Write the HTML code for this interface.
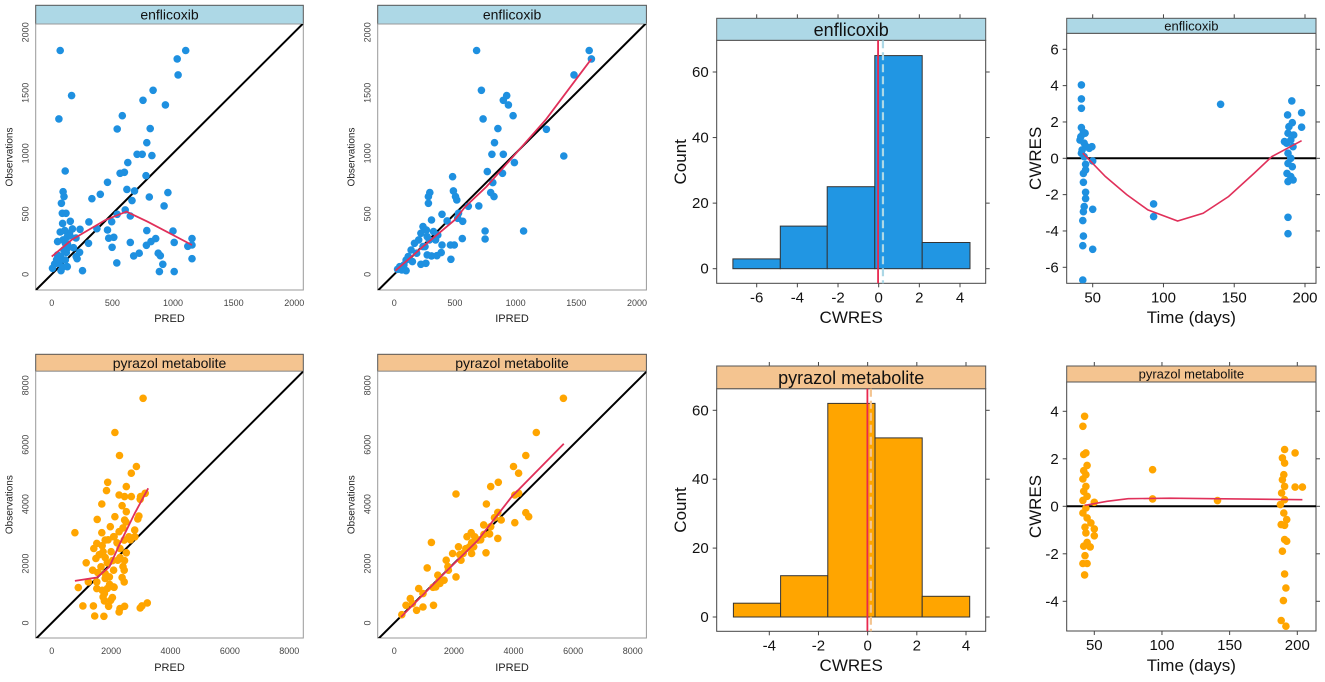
<!DOCTYPE html>
<html><head><meta charset="utf-8">
<style>
html,body{margin:0;padding:0;background:#fff;overflow:hidden;width:1325px;height:682px;}
svg{display:block;font-family:"Liberation Sans",sans-serif;}
</style></head>
<body>
<svg id="fig" width="1325" height="682" viewBox="0 0 1325 682" xmlns="http://www.w3.org/2000/svg"></svg>
<script>
// ---------- DATA ----------
const pred1X=[70,1105,1035,1042,164,836,937,753,582,59,540,812,784,704,746,826,627,564,599,777,460,958,620,683,662,401,331,805,927,111,94,101,80,87,118,153,90,108,171,233,307,606,540,648,495,460,470,512,498,784,781,819,857,1000,878,895,916,888,1010,1010,1157,1157,1157,1122,648,721,676,537,254,209,202,129,112,77,49,24,7,49,94,129,146,73,112,59,45,303,230,373,129,60,100,130,150,180,200,90,40,70,120];
const pred1Y=[1850,1850,1780,1648,1477,1521,1400,1438,1311,1284,1201,1204,1088,992,992,981,923,835,843,815,760,675,702,689,609,661,625,639,565,854,683,642,587,504,504,438,421,361,375,372,433,532,496,482,435,366,298,306,223,361,240,270,295,358,174,154,83,22,22,264,295,242,129,231,264,174,152,94,30,129,146,63,118,30,160,85,50,270,284,215,339,146,256,91,124,256,182,377,311,100,200,250,320,220,300,60,120,350,180];
const pred1LoessX=[0,164,443,617,791,1157];
const pred1LoessY=[146,284,449,518,435,242];
const ipred1X=[679,1606,1624,1481,718,927,899,941,979,732,854,1254,826,805,899,1397,990,481,767,892,812,488,505,516,697,610,822,795,293,282,282,394,530,564,523,436,307,237,265,324,359,272,220,341,394,463,495,561,749,749,1066,467,272,307,352,387,220,261,167,139,115,98,80,45,28,63,98,150,185,237,289,254,202];
const ipred1Y=[1850,1850,1780,1648,1521,1477,1438,1400,1311,1284,1204,1198,1088,992,992,978,923,807,849,835,758,689,642,614,565,562,642,675,675,642,587,496,504,438,463,441,449,394,366,353,325,311,339,284,242,242,242,295,358,292,358,124,160,152,154,179,83,91,256,201,146,118,77,63,41,36,30,105,174,229,284,229,284];
const ipred1LoessX=[10,237,498,585,760,1003,1247,1624];
const ipred1LoessY=[30,229,449,559,725,1000,1276,1780];
const pred2X=[3078,2128,2284,2851,2681,1887,2511,1844,2270,2454,2681,2993,3149,2979,1688,2369,2128,2511,1532,2936,2454,780,1688,1972,2270,2794,1801,1518,2085,2440,1418,1730,2298,2511,1489,1872,2227,1163,1660,2085,2440,1376,1801,1943,1518,2369,1234,894,1518,1872,2085,2440,1773,2043,1050,1404,1773,1915,2270,2454,1447,1759,2979,3220,3036,2298,1730,1986,1600,1700,1900,2100,2200,2400,2500,2600,2800,1800,2000,2300,1950,2100,1700,2400,2450,1550,2650,2900,2050,1800];
const pred2Y=[7561,6413,5637,5266,5041,4737,4591,4456,4309,4253,4253,4253,4366,4163,4006,3949,3578,3747,3488,3600,3466,3038,3038,3241,3072,3128,2790,2678,2903,2790,2509,2397,2509,2363,2172,2025,2115,2025,1890,1778,1778,1778,1665,1553,1384,1530,1384,1193,1159,1159,1215,1384,990,855,574,574,743,562,371,562,236,225,506,675,574,484,878,765,2300,2600,2800,2900,2700,3200,3400,2900,2900,2200,2400,2200,1300,1200,1100,1900,2100,1700,2800,3500,2100,1500];
const pred2LoessX=[780,1518,1943,2298,2794,3249];
const pred2LoessY=[1418,1530,1890,2678,3690,4534];
const ipred2X=[5674,4766,4411,4000,4170,3489,3234,2071,4170,4043,3092,4411,4510,4043,3475,3362,3475,3078,1248,3007,2582,2440,2156,1106,2071,1319,823,539,397,255,610,965,1532,1816,2241,2667,2809,1674,1461,1957,2312,3234,3589,2596,752,965,1390,1745,2525,1500,1800,2200,2600,2900,3200,1300,2400,3000,2700];
const ipred2Y=[7561,6413,5637,5266,5041,4737,4591,4343,4366,4309,4006,3713,3578,3376,3724,3544,2847,2363,2712,2981,3038,2903,2565,1856,1553,596,1159,821,596,281,652,540,1328,1778,2115,2565,2790,1440,1609,2340,2340,3241,3466,2340,427,990,1215,2115,2565,1400,1900,2300,2700,2800,3000,1200,2500,3300,2900];
const ipred2LoessX=[227,1674,2809,3943,5688];
const ipred2LoessY=[202,1665,2790,4253,6031];
const hist1Edges=[-7.17,-4.84,-2.53,-0.19,2.14,4.49];
const hist1Counts=[3,13,25,65,8];
const hist1Mean=[-0.03,0.21];
const hist2Edges=[-5.46,-3.54,-1.62,0.3,2.22,4.15];
const hist2Counts=[4,12,62,52,6];
const hist2Mean=[-0.01,0.13];
const cw1T=[42,42,42,42,43.4,41,44,45.5,47.6,49.4,50,42,44,45,43.4,45,43.4,45,45,44,43.4,50,43,43.4,43,50,43,41.6,44.6,42.5,93,93,140.4,190.7,197.6,197.6,187.7,191,188.6,188,190,187,191.5,188,190,188,191,187.3,190,188,191.6,188,188,185.5,192];
const cw1V=[4.04,3.27,2.75,1.69,1.43,1.0,0.83,0.64,0.55,0.64,-0.15,0.28,0.09,-0.33,-0.83,-0.64,-1.32,-1.87,-2.22,-2.66,-2.94,-2.81,-3.43,-4.28,-4.81,-5.01,-6.7,1.19,1.38,0.46,-2.51,-3.21,2.97,3.16,2.51,1.71,2.39,1.96,1.74,1.38,1.01,0.83,0.64,0.28,0,-0.28,-0.46,-0.83,-1.01,-1.28,-1.19,-3.25,-4.15,0.92,1.28];
const cw1LoessT=[43,59,74,89,110,128,146,164,176.5,197.6];
const cw1LoessV=[0.28,-1.0,-2.0,-2.84,-3.45,-3.03,-2.1,-0.83,0.09,0.97];
const cw2T=[42.8,41.6,42.2,43.8,44.7,42.2,43.8,41.6,43.8,42.2,44.7,41.6,50,43.8,41.6,44.7,47.5,43.1,50,50,43.8,44.7,42.2,47,43.1,44.7,41.6,42.8,93.1,93.1,141,190.6,189,198.4,190.6,190,198.4,203.8,189,190.6,188.4,190.6,187.5,190,192.2,188.1,190.6,190.6,189,190.6,191.6,189.7,188.1,191.6,192.2];
const cw2V=[3.79,3.37,2.18,2.25,1.72,1.5,1.33,1.15,0.84,0.63,0.42,0.25,0.17,-0.07,-0.28,-0.49,-0.7,-0.88,-0.95,-1.24,-1.12,-1.52,-1.68,-1.71,-2.08,-2.41,-2.41,-2.89,1.54,0.31,0.24,2.39,2.04,2.25,1.82,1.33,0.81,0.81,1.12,0.84,0.56,0.28,0.07,-0.28,-0.56,-0.77,-0.8,-1.4,-1.89,-2.85,-3.44,-3.97,-4.81,-5.05,-1.47];
const cw2LoessT=[42.8,59.4,75,106,137.5,203.8];
const cw2LoessV=[0.04,0.21,0.32,0.34,0.32,0.28];
const scatTicks1=[0,500,1000,1500,2000];
const scatTicks2=[0,2000,4000,6000,8000];
const hist1XTicks=[-6,-4,-2,0,2,4];
const hist2XTicks=[-4,-2,0,2,4];
const histYTicks=[0,20,40,60];
const timeTicks=[50,100,150,200];
const cw1YTicks=[-6,-4,-2,0,2,4,6];
const cw2YTicks=[-4,-2,0,2,4];

// ---------- HELPERS ----------
const NS="http://www.w3.org/2000/svg";
const svg=document.getElementById('fig');
function mk(parent,tag,attrs,name){
  const el=document.createElementNS(NS,tag);
  for(const k in attrs) el.setAttribute(k,attrs[k]);
  
  
  parent.appendChild(el);
  return el;
}
function lin(d0,d1,r0,r1){return v=>r0+(v-d0)*(r1-r0)/(d1-d0);}
function txt(parent,x,y,s,size,name,opts){
  opts=opts||{};
  const a={x:x,y:y,'font-size':size,fill:opts.fill||'#111','text-anchor':opts.anchor||'middle'};
  if(opts.rot) a.transform='rotate(-90 '+x+' '+y+')';
  const t=mk(parent,'text',a,name);
  t.textContent=s;
  return t;
}
const defs=mk(svg,'defs',{},'definitions');
function clip(id,b){
  const cp=mk(defs,'clipPath',{id:id},'clip-region');
  mk(cp,'rect',{x:b[0],y:b[1],width:b[2]-b[0],height:b[3]-b[1]},'clip-rect');
}
function strip(g,b,label,fill,size){
  mk(g,'rect',{x:b[0],y:b[1],width:b[2]-b[0],height:b[3]-b[1],fill:fill,stroke:'#555','stroke-width':1},'strip-background');
  txt(g,(b[0]+b[2])/2,(b[1]+b[3])/2+size*0.36,label,size,'strip-label');
}
function path(g,xs,ys,sx,sy,attrs,name){
  let d='';
  for(let i=0;i<xs.length;i++) d+=(i?'L':'M')+sx(xs[i]).toFixed(1)+' '+sy(ys[i]).toFixed(1);
  attrs.d=d; attrs.fill='none';
  return mk(g,'path',attrs,name);
}

// ---------- SCATTER PANELS ----------
function scatter(cfg){
  const g=mk(svg,'g',{},cfg.name);
  const b=cfg.box, sx=cfg.sx, sy=cfg.sy;
  clip(cfg.name+'-clip',b);
  strip(g,cfg.strip,cfg.title,cfg.stripFill,14);
  mk(g,'rect',{x:b[0],y:b[1],width:b[2]-b[0],height:b[3]-b[1],fill:'#fff',stroke:'#999','stroke-width':1},'plot-box');
  const inner=mk(g,'g',{'clip-path':'url(#'+cfg.name+'-clip)'},'plot-area');
  const lo=-100000, hi=100000;
  path(inner,[lo,hi],[lo,hi],sx,sy,{stroke:'#000','stroke-width':2},'identity-line');
  for(let i=0;i<cfg.xs.length;i++){
    mk(inner,'circle',{cx:sx(cfg.xs[i]).toFixed(1),cy:sy(cfg.ys[i]).toFixed(1),r:3.8,fill:cfg.col},'data-point');
  }
  path(inner,cfg.lx,cfg.ly,sx,sy,{stroke:'#e0305a','stroke-width':1.8},'loess-line');
  cfg.ticks.forEach(t=>{
    const x=sx(t);
    txt(g,x,b[3]+16,String(t),9,'x-tick-label',{fill:'#444'});
    const y=sy(t);
    txt(g,b[0]-7,y,String(t),9,'y-tick-label',{fill:'#444',rot:true});
  });
  txt(g,(b[0]+b[2])/2,cfg.xlabY,cfg.xlab,11,'x-axis-title',{fill:'#222'});
  txt(g,b[0]-23,(b[1]+b[3])/2,'Observations',10,'y-axis-title',{fill:'#222',rot:true});
}
const blue='#1e90e0', orange='#ffa500', stripBlue='#add8e6', stripOrange='#f4c490';
scatter({name:'enflicoxib-pred-panel',box:[35.7,24,303.3,290],strip:[35.7,5.3,303.3,24],title:'enflicoxib',stripFill:stripBlue,
  sx:lin(0,2000,51.7,294.3),sy:lin(0,2000,274.3,32.3),xs:pred1X,ys:pred1Y,lx:pred1LoessX,ly:pred1LoessY,col:blue,ticks:scatTicks1,xlab:'PRED',xlabY:322});
scatter({name:'enflicoxib-ipred-panel',box:[377.7,24,646.4,290],strip:[377.7,5.3,646.4,24],title:'enflicoxib',stripFill:stripBlue,
  sx:lin(0,2000,394.2,637),sy:lin(0,2000,274.3,32.3),xs:ipred1X,ys:ipred1Y,lx:ipred1LoessX,ly:ipred1LoessY,col:blue,ticks:scatTicks1,xlab:'IPRED',xlabY:322});
scatter({name:'pyrazol-pred-panel',box:[35.7,371.3,303.3,638],strip:[35.7,354.3,303.3,371.3],title:'pyrazol metabolite',stripFill:stripOrange,
  sx:lin(0,8000,51.7,289.3),sy:lin(0,8000,623,385.3),xs:pred2X,ys:pred2Y,lx:pred2LoessX,ly:pred2LoessY,col:orange,ticks:scatTicks2,xlab:'PRED',xlabY:671});
scatter({name:'pyrazol-ipred-panel',box:[377.7,371.3,646.4,638],strip:[377.7,354.3,646.4,371.3],title:'pyrazol metabolite',stripFill:stripOrange,
  sx:lin(0,8000,394.2,632.8),sy:lin(0,8000,623,385.3),xs:ipred2X,ys:ipred2Y,lx:ipred2LoessX,ly:ipred2LoessY,col:orange,ticks:scatTicks2,xlab:'IPRED',xlabY:671});

// ---------- LATTICE FRAME ----------
function latticeFrame(g,b,stripTop,sx,sy,xt,yt){
  mk(g,'rect',{x:b[0],y:b[1],width:b[2]-b[0],height:b[3]-b[1],fill:'#fff',stroke:'#444','stroke-width':1},'plot-box');
  xt.forEach(t=>{
    const x=sx(t);
    mk(g,'line',{x1:x,x2:x,y1:b[3],y2:b[3]+4,stroke:'#444'},'x-tick');
    mk(g,'line',{x1:x,x2:x,y1:stripTop-4,y2:stripTop,stroke:'#444'},'x-tick-top');
    txt(g,x,b[3]+19,String(t),15,'x-tick-label');
  });
  yt.forEach(t=>{
    const y=sy(t);
    mk(g,'line',{x1:b[0]-4,x2:b[0],y1:y,y2:y,stroke:'#444'},'y-tick');
    mk(g,'line',{x1:b[2],x2:b[2]+4,y1:y,y2:y,stroke:'#444'},'y-tick-right');
    txt(g,b[0]-8,y+5,String(t),15,'y-tick-label',{anchor:'end'});
  });
}

// ---------- HISTOGRAMS ----------
function hist(cfg){
  const g=mk(svg,'g',{},cfg.name);
  const b=cfg.box, sx=cfg.sx, sy=cfg.sy;
  latticeFrame(g,b,cfg.strip[1],sx,sy,cfg.xt,histYTicks);
  strip(g,cfg.strip,cfg.title,cfg.stripFill,18);
  for(let i=0;i<cfg.counts.length;i++){
    const x0=sx(cfg.edges[i]), x1=sx(cfg.edges[i+1]), y=sy(cfg.counts[i]);
    mk(g,'rect',{x:x0.toFixed(1),y:y.toFixed(1),width:(x1-x0).toFixed(1),height:(sy(0)-y).toFixed(1),fill:cfg.col,stroke:'#333','stroke-width':1},'histogram-bar');
  }
  const xm=sx(cfg.mean[0]);
  mk(g,'line',{x1:xm,x2:xm,y1:b[1],y2:b[3],stroke:'#e8284e','stroke-width':1.8},'zero-line');
  const xd=sx(cfg.mean[1]);
  mk(g,'line',{x1:xd,x2:xd,y1:b[1],y2:b[3],stroke:cfg.dash,'stroke-width':2.2,'stroke-dasharray':'8,4'},'mean-line');
  txt(g,(b[0]+b[2])/2,cfg.xlabY,'CWRES',17,'x-axis-title');
  txt(g,686,(b[1]+b[3])/2,'Count',17,'y-axis-title',{rot:true});
}
hist({name:'enflicoxib-cwres-histogram',box:[716.7,40.3,985.7,283.3],strip:[716.7,18.3,985.7,40.3],title:'enflicoxib',stripFill:stripBlue,
  sx:lin(-6,4,756.7,960),sy:lin(0,60,268.7,72),edges:hist1Edges,counts:hist1Counts,mean:hist1Mean,col:'#2196e3',dash:'#add8e6',xt:hist1XTicks,xlabY:323});
hist({name:'pyrazol-cwres-histogram',box:[716.7,388.7,985.7,631.3],strip:[716.7,366,985.7,388.7],title:'pyrazol metabolite',stripFill:stripOrange,
  sx:lin(-4,4,769.3,966),sy:lin(0,60,617,410.3),edges:hist2Edges,counts:hist2Counts,mean:hist2Mean,col:orange,dash:'#f4c490',xt:hist2XTicks,xlabY:671});

// ---------- CWRES vs TIME ----------
function cwres(cfg){
  const g=mk(svg,'g',{},cfg.name);
  const b=cfg.box, sx=cfg.sx, sy=cfg.sy;
  clip(cfg.name+'-clip',b);
  latticeFrame(g,b,cfg.strip[1],sx,sy,timeTicks,cfg.yt);
  strip(g,cfg.strip,cfg.title,cfg.stripFill,13);
  const inner=mk(g,'g',{'clip-path':'url(#'+cfg.name+'-clip)'},'plot-area');
  mk(inner,'line',{x1:b[0],x2:b[2],y1:sy(0),y2:sy(0),stroke:'#000','stroke-width':2},'zero-line');
  for(let i=0;i<cfg.ts.length;i++){
    mk(inner,'circle',{cx:sx(cfg.ts[i]).toFixed(1),cy:sy(cfg.vs[i]).toFixed(1),r:3.8,fill:cfg.col},'data-point');
  }
  path(inner,cfg.lt,cfg.lv,sx,sy,{stroke:'#e0305a','stroke-width':1.6},'loess-line');
  txt(g,(b[0]+b[2])/2,cfg.xlabY,'Time (days)',17,'x-axis-title');
  txt(g,1041,(b[1]+b[3])/2,'CWRES',17,'y-axis-title',{rot:true});
}
cwres({name:'enflicoxib-cwres-time',box:[1066.7,33.3,1316,283.3],strip:[1066.7,18.3,1316,33.3],title:'enflicoxib',stripFill:stripBlue,
  sx:lin(50,200,1092.7,1305),sy:lin(0,6,158.3,49.3),ts:cw1T,vs:cw1V,lt:cw1LoessT,lv:cw1LoessV,col:blue,yt:cw1YTicks,xlabY:323});
cwres({name:'pyrazol-cwres-time',box:[1066.7,382,1316,631],strip:[1066.7,366,1316,382],title:'pyrazol metabolite',stripFill:stripOrange,
  sx:lin(50,200,1094.3,1297.3),sy:lin(0,4,506.3,411.3),ts:cw2T,vs:cw2V,lt:cw2LoessT,lv:cw2LoessV,col:orange,yt:cw2YTicks,xlabY:671});
</script>
</body></html>
